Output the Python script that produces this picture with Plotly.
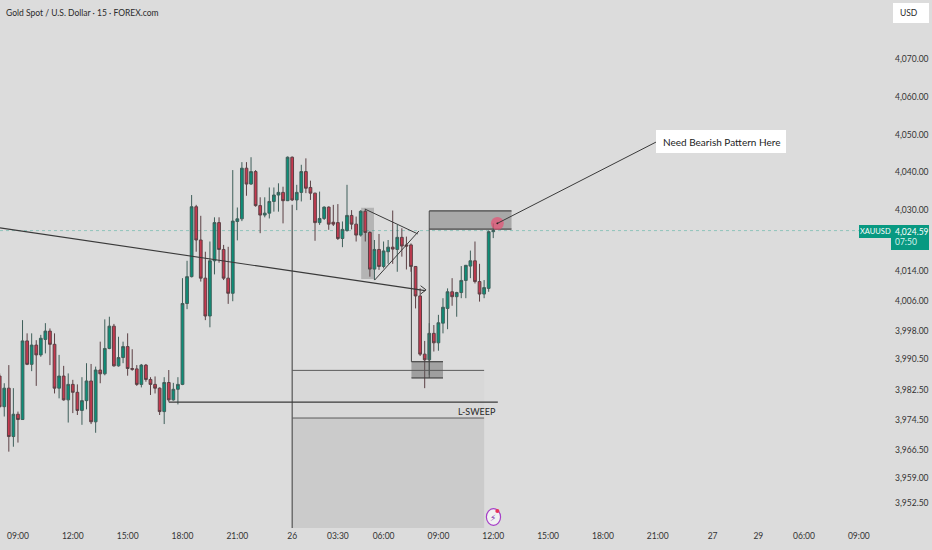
#!/usr/bin/env python3

import plotly.graph_objects as go

# 15 minute bars
opens = [3986.1, 3978.0, 3982.9, 3970.1, 3976.0, 3974.6, 3995.4, 3989.2, 3994.3, 3991.7,
         3995.8, 3998.0, 3994.5, 3982.9, 3986.1, 3979.8, 3983.9, 3981.8, 3977.0, 3979.6,
         3984.8, 3974.0, 3987.7, 3986.7, 3993.4, 3999.3, 3988.8, 3991.0, 3993.9, 3988.1,
         3988.0, 3983.9, 3989.0, 3985.2, 3983.9, 3982.9, 3976.7, 3984.4, 3979.8, 3982.6,
         3983.9, 4005.3, 4012.4, 4030.9, 4022.1, 4012.0, 4002.0, 4016.6, 4026.7, 4019.6,
         4012.0, 4008.0, 4027.0, 4027.7, 4041.1, 4036.9, 4040.2, 4031.2, 4028.7, 4029.2,
         4032.3, 4034.0, 4034.7, 4032.5, 4044.0, 4032.7, 4034.7, 4040.2, 4036.0, 4034.5,
         4026.7, 4027.8, 4030.8, 4026.8, 4026.7, 4022.5, 4024.6, 4028.6, 4026.3, 4023.4,
         4029.7, 4024.1, 4014.4, 4019.6, 4015.1, 4019.0, 4020.2, 4019.6, 4022.8, 4020.8,
         4020.8, 4015.1, 4007.3, 3991.9, 3990.4, 3997.4, 3994.9, 4000.1, 4004.0, 4008.4,
         4007.1, 4008.2, 4011.4, 4015.2, 4016.6, 4011.1, 4007.8, 4009.3, 4024.3]
highs = [3986.8, 3984.2, 3989.0, 3982.9, 3976.7, 4000.9, 3997.4, 3997.4, 3995.6, 3997.0,
         4000.1, 3998.7, 3997.4, 3991.7, 3988.8, 3986.8, 3985.1, 3983.9, 3985.8, 3989.5,
         3989.3, 3988.6, 3995.2, 4001.1, 4001.8, 3999.9, 3996.5, 3995.2, 3997.4, 3993.2,
         3989.0, 3989.3, 3989.3, 3985.8, 3986.0, 3983.1, 3985.8, 3987.7, 3984.3, 3985.8,
         4012.0, 4016.6, 4034.0, 4031.4, 4028.5, 4019.0, 4021.7, 4028.1, 4028.1, 4020.8,
         4020.3, 4040.6, 4030.7, 4042.7, 4042.7, 4044.0, 4040.6, 4033.4, 4033.4, 4036.0,
         4036.0, 4037.1, 4036.2, 4044.2, 4044.2, 4036.7, 4042.0, 4043.7, 4037.8, 4034.6,
         4034.9, 4031.0, 4031.0, 4031.4, 4031.6, 4027.0, 4036.7, 4030.0, 4028.3, 4030.0,
         4030.2, 4024.4, 4022.1, 4023.7, 4021.7, 4022.1, 4029.9, 4026.1, 4025.2, 4023.0,
         4021.2, 4015.2, 4009.3, 3995.4, 4000.1, 3999.6, 4002.3, 4006.7, 4009.3, 4012.0,
         4008.4, 4015.2, 4015.5, 4019.3, 4021.7, 4015.8, 4011.5, 4024.6, 4026.5]
lows = [3977.6, 3975.4, 3966.1, 3967.4, 3968.5, 3974.5, 3989.0, 3987.4, 3983.5, 3991.2,
        3992.1, 3989.0, 3981.5, 3980.2, 3979.6, 3973.8, 3976.3, 3975.8, 3973.2, 3977.3,
        3973.4, 3971.1, 3984.2, 3986.3, 3993.2, 3988.6, 3988.6, 3989.5, 3986.2, 3987.5,
        3983.5, 3983.1, 3984.6, 3981.1, 3981.5, 3975.8, 3973.4, 3979.3, 3979.6, 3978.6,
        3983.7, 4003.8, 4012.2, 4019.0, 4011.1, 4000.9, 3999.0, 4013.0, 4016.1, 4011.5,
        4005.2, 4005.9, 4022.0, 4027.1, 4033.8, 4036.7, 4030.9, 4023.9, 4028.1, 4027.8,
        4029.6, 4029.6, 4026.5, 4032.4, 4032.4, 4030.0, 4032.3, 4034.5, 4032.7, 4021.9,
        4026.1, 4027.4, 4024.8, 4025.8, 4022.1, 4020.2, 4024.3, 4024.9, 4021.7, 4023.0,
        4021.7, 4012.4, 4011.5, 4014.2, 4014.6, 4015.8, 4015.8, 4013.7, 4017.7, 4014.3,
        4013.7, 4004.0, 3991.4, 3982.9, 3986.4, 3992.6, 3992.8, 3997.4, 3998.5, 4004.7,
        4001.8, 4006.7, 4006.7, 4012.0, 4010.6, 4005.8, 4006.7, 4008.4, 4022.6]
closes = [3978.0, 3982.9, 3970.1, 3976.0, 3974.6, 3995.4, 3989.2, 3994.3, 3991.7, 3996.1,
          3998.0, 3994.5, 3982.9, 3986.1, 3979.8, 3983.9, 3981.8, 3977.0, 3979.6, 3984.8,
          3974.0, 3987.7, 3986.7, 3993.4, 3999.3, 3988.8, 3991.0, 3993.9, 3988.1, 3987.9,
          3983.9, 3989.0, 3985.2, 3983.9, 3982.9, 3976.7, 3984.4, 3979.8, 3982.6, 3983.9,
          4005.3, 4012.4, 4030.9, 4022.1, 4012.0, 4002.0, 4016.6, 4026.7, 4019.6, 4012.0,
          4008.0, 4027.1, 4027.7, 4041.1, 4036.9, 4040.2, 4031.2, 4028.7, 4029.2, 4032.3,
          4034.0, 4034.7, 4032.5, 4044.0, 4032.7, 4034.7, 4040.2, 4035.8, 4034.5, 4026.7,
          4027.8, 4030.8, 4026.3, 4026.3, 4022.5, 4024.9, 4028.6, 4026.3, 4023.4, 4029.7,
          4024.1, 4014.4, 4019.6, 4015.1, 4019.2, 4020.2, 4019.7, 4022.8, 4020.5, 4020.5,
          4015.1, 4007.3, 3991.9, 3990.4, 3997.4, 3994.9, 4000.2, 4004.3, 4008.4, 4007.1,
          4008.2, 4011.4, 4015.4, 4016.6, 4011.1, 4007.8, 4009.5, 4024.3, 4024.59]
bars = list(range(len(opens)))

price_ticks = [4070, 4060, 4050, 4040, 4030, 4014, 4006, 3998, 3990.5, 3982.5, 3974.5, 3966.5, 3959, 3952.5]
time_bars = [4, 16, 28, 40, 52, 64, 74, 84, 96, 108, 120, 132, 144, 156, 166, 176, 188]
time_labels = ['09:00', '12:00', '15:00', '18:00', '21:00', '26', '03:30', '06:00', '09:00',
               '12:00', '15:00', '18:00', '21:00', '27', '29', '06:00', '09:00']
last_price = 4024.59

BG = '#dcdcdc'
LINE = '#3a3a3a'
TEAL = '#089981'
FONT = 'Lato, Roboto, sans-serif'
PLOT_W = 893
PLOT_H = 528


def line(x0, y0, x1, y1, color=LINE, width=1.1, layer='above', dash='solid'):
    return dict(type='line', x0=x0, y0=y0, x1=x1, y1=y1, layer=layer,
                line=dict(color=color, width=width, dash=dash))


def box(x0, y0, x1, y1, fill, layer='below'):
    return dict(type='rect', x0=x0, y0=y0, x1=x1, y1=y1, layer=layer,
                fillcolor=fill, line=dict(width=0))


def paper_box(x0, y0, x1, y1, fill):
    return dict(type='rect', xref='paper', yref='paper', layer='above',
                x0=x0 / PLOT_W, x1=x1 / PLOT_W, y0=1 - y1 / PLOT_H, y1=1 - y0 / PLOT_H,
                fillcolor=fill, line=dict(width=0))


def label(x, y, text, size=9, color='#2a2a2a', anchor='left'):
    return dict(xref='paper', yref='paper', x=x / PLOT_W, y=1 - y / PLOT_H, text=text,
                showarrow=False, xanchor=anchor, yanchor='middle', borderpad=0,
                font=dict(family=FONT, size=size, color=color))


candles = go.Candlestick(
    x=bars, open=opens, high=highs, low=lows, close=closes,
    increasing=dict(fillcolor='#0c8f78', line=dict(color='#3f5f5a', width=1)),
    decreasing=dict(fillcolor='#c5394f', line=dict(color='#5c4045', width=1)),
    whiskerwidth=0,
    showlegend=False,
    hoverinfo='skip')

shapes = [
    # long range block under the drop
    box(64, 3975.0, 106, 3945.9, '#cbcbcb'),
    box(64, 3987.6, 106, 3975.0, '#d8d8d8'),
    line(64, 4031.4, 64, 3945.9, color='#4a4a4a', layer='below'),
    line(64, 3987.6, 106, 3987.6, color='#5a5a5a', width=1),
    line(64, 3975.0, 106, 3975.0, color='#5a5a5a', width=1),
    line(37, 3979.2, 109, 3979.2),
    # pennant
    box(79.1, 4030.6, 81.9, 4011.8, 'rgba(120,120,120,0.4)'),
    line(79.9, 4030.3, 91.5, 4023.7, width=1),
    line(82.05, 4011.5, 91.75, 4024.5, width=1),
    # trend line with open arrow head
    line(0.07, 4025.3, 93.1, 4008.7),
    dict(type='path', path='M 92.1,4010.0 L 93.3,4008.9 L 92.1,4007.8', layer='above',
         line=dict(color=LINE, width=1)),
    # zones
    line(90.1, 4019.5, 90.1, 3989.9, color='#555555', layer='below'),
    line(94, 4029.8, 94, 3985.6, color='#555555'),
    box(94, 4029.8, 112, 4025.0, 'rgba(90,90,90,0.4)', layer='above'),
    line(94, 4029.8, 112, 4029.8, color='#444444', width=1.3),
    line(94, 4025.0, 112, 4025.0, color='#444444', width=1.3),
    box(90.1, 3989.9, 97, 3985.6, 'rgba(90,90,90,0.45)', layer='above'),
    line(90.1, 3989.9, 97, 3989.9, color='#444444', width=1.2),
    line(90.1, 3985.6, 97, 3985.6, color='#444444', width=1.2),
    # last price
    line(0.07, last_price, 195.47, last_price, color='rgba(8,153,129,0.6)', width=0.6, dash='dot',
         layer='below'),
    # callout marker
    dict(type='circle', x0=107.5, x1=110.3, y0=4024.8, y1=4028.2, layer='above',
         fillcolor='rgba(232,80,115,0.7)', line=dict(width=0)),
    dict(type='circle', x0=108.7, x1=109.1, y0=4026.25, y1=4026.75, layer='above',
         fillcolor='#111111', line=dict(width=0)),
    line(108.9, 4026.5, 143.6, 4048.0, width=1),
    # lightning badge
    dict(type='circle', x0=106.5, x1=109.6, y0=3946.6, y1=3951.0, layer='above',
         fillcolor='#f1f1f1', line=dict(color='#a63fc8', width=1.2)),
    dict(type='circle', x0=108.45, x1=109.35, y0=3949.9, y1=3950.9, layer='above',
         fillcolor='#e8345a', line=dict(width=0)),
    # axis labels with a background
    paper_box(893, 3, 929, 23, '#ffffff'),
    paper_box(859, 225, 891, 238, TEAL),
    paper_box(891, 225, 929, 250, TEAL),
    paper_box(656, 130, 786, 153, '#ffffff'),
]

annotations = [
    label(5, 13, 'Gold Spot / U.S. Dollar · 15 · FOREX.com', size=8.5),
    label(899, 13, 'USD', size=8.5),
    label(875, 231.5, 'XAUUSD', size=7.5, color='#ffffff', anchor='center'),
    label(894, 231.5, '4,024.59', size=8.5, color='#ffffff'),
    label(894, 242.5, '07:50', size=8.5, color='#d8f3ee'),
    label(721, 142, 'Need Bearish Pattern Here', size=10, color='#1c1c1c', anchor='center'),
    label(477, 411, 'L-SWEEP', size=9, anchor='center'),
    label(493.3, 517.5, '⚡', size=9, color='#7a2bb0', anchor='center'),
]
annotations[-1]['font']['family'] = 'DejaVu Sans'

fig = go.Figure(candles)
fig.update_layout(
    width=932, height=550, autosize=False,
    margin=dict(l=0, r=932 - PLOT_W, t=0, b=550 - PLOT_H, pad=0),
    paper_bgcolor=BG, plot_bgcolor=BG,
    boxgap=0.2, boxgroupgap=0.25,
    shapes=shapes, annotations=annotations,
    font=dict(family=FONT, size=8.5, color='#333333'),
    xaxis=dict(range=[0.07, 195.47], rangeslider=dict(visible=False), showgrid=False,
               zeroline=False, showline=False, ticks='', tickmode='array',
               tickvals=time_bars, ticktext=time_labels, ticklabelstandoff=1,
               tickfont=dict(family=FONT, size=8.5, color='#333333')),
    yaxis=dict(range=[3945.9, 4085.6], side='right', showgrid=False, zeroline=False,
               showline=False, ticks='', tickmode='array', tickvals=price_ticks,
               ticktext=[f'{p:,.2f}' for p in price_ticks], ticklabelstandoff=1,
               tickfont=dict(family=FONT, size=8.5, color='#333333')),
)

# the page's default body margin would push the figure out of the window
fig.write_html('out.html', config=dict(displayModeBar=False),
               post_script='document.body.style.margin = "0";')
